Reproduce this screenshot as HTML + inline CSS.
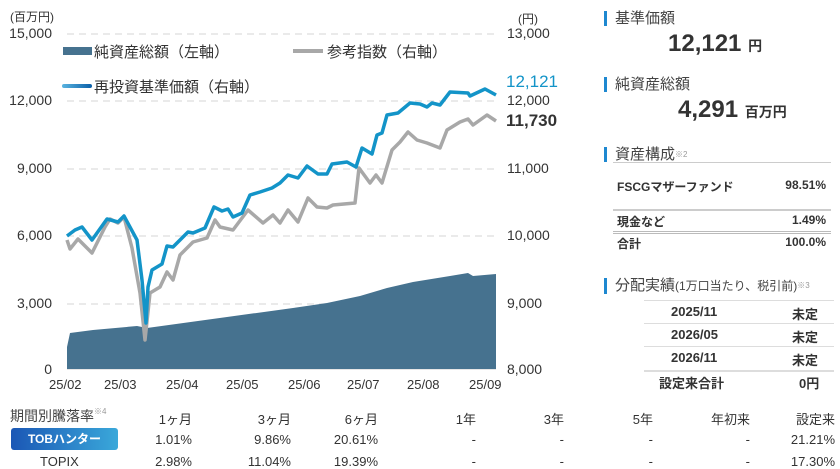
<!DOCTYPE html>
<html><head><meta charset="utf-8"><style>
body{margin:0;width:840px;height:469px;background:#fff;overflow:hidden;font-family:"Liberation Sans","Noto Sans CJK JP",sans-serif;color:#333;position:relative}
.a{position:absolute;white-space:nowrap}
.h{position:absolute;font-size:15px;color:#444;padding-left:8px;border-left:3px solid #1e88d0;line-height:15px}
.r{text-align:right}
.b{font-weight:bold}
</style></head><body>
<svg class="a" style="left:0;top:0" width="580" height="400">
<g stroke="#ddd" stroke-width="1.2" stroke-dasharray="7,5">
<line x1="67" y1="34" x2="496" y2="34"/><line x1="67" y1="101" x2="496" y2="101"/>
<line x1="67" y1="169" x2="496" y2="169"/><line x1="67" y1="236" x2="496" y2="236"/>
<line x1="67" y1="304" x2="496" y2="304"/></g>
<line x1="67" y1="369" x2="496" y2="369" stroke="#ccc"/>
<path fill="#46728f" d="M67,369 L67,347 70,333 93,330 137,326 147,328 227,317 293,308 327,303 360,296 387,288 413,282 450,276 468,273 473,276 496,274 496,369Z"/>
<polyline fill="none" stroke="#a8a8a8" stroke-width="3.5" stroke-linejoin="round" points="67,240 70,249 78,239 84,245 92,253 105,227 110,219 118,223 124,217 132,248 140,293 145,340 150,293 160,287 167,272 173,280 180,255 193,242 207,238 215,220 220,227 233,230 248,210 263,223 273,215 280,223 288,210 298,222 308,198 317,207 327,208 333,205 355,203 359,168 370,183 376,175 382,183 392,150 400,142 408,132 417,140 427,143 440,148 447,130 460,122 468,119 473,125 487,115 496,121"/>
<polyline fill="none" stroke="#1394c8" stroke-width="3.5" stroke-linejoin="round" points="67,236 75,230 82,227 92,240 107,219 118,222 124,216 137,240 142,280 146,323 148,287 152,270 162,264 167,246 173,247 188,232 193,233 205,228 214,207 222,211 228,209 233,217 242,213 250,195 260,192 272,188 280,183 288,175 298,178 307,166 318,174 327,174 332,164 347,162 356,167 362,148 372,154 377,135 382,133 387,115 398,113 410,103 420,104 427,107 432,103 440,105 450,92 468,93 470,96 485,89 496,95"/>
<rect x="63" y="47" width="29" height="8" fill="#46728f"/>
<line x1="293" y1="51" x2="323" y2="51" stroke="#a8a8a8" stroke-width="4"/>
<defs><linearGradient id="g" gradientUnits="userSpaceOnUse" x1="62" y1="0" x2="92" y2="0"><stop offset="0" stop-color="#5ab4e0"/><stop offset="1" stop-color="#0a5fa8"/></linearGradient></defs>
<rect x="62" y="84" width="30" height="4" rx="2" fill="url(#g)"/>
</svg>
<div class="a" style="left:10px;top:8px;font-size:12px">(百万円)</div>
<div class="a" style="left:518px;top:10px;font-size:12px">(円)</div>
<div class="a r" style="left:0;width:52px;top:25px;font-size:14px">15,000</div>
<div class="a r" style="left:0;width:52px;top:92px;font-size:14px">12,000</div>
<div class="a r" style="left:0;width:52px;top:160px;font-size:14px">9,000</div>
<div class="a r" style="left:0;width:52px;top:227px;font-size:14px">6,000</div>
<div class="a r" style="left:0;width:52px;top:295px;font-size:14px">3,000</div>
<div class="a r" style="left:0;width:52px;top:361px;font-size:14px">0</div>
<div class="a" style="left:507px;top:25px;font-size:14px">13,000</div>
<div class="a" style="left:507px;top:92px;font-size:14px">12,000</div>
<div class="a" style="left:507px;top:160px;font-size:14px">11,000</div>
<div class="a" style="left:507px;top:227px;font-size:14px">10,000</div>
<div class="a" style="left:507px;top:295px;font-size:14px">9,000</div>
<div class="a" style="left:507px;top:361px;font-size:14px">8,000</div>
<div class="a" style="left:506px;top:72px;font-size:17px;color:#1394c8">12,121</div>
<div class="a b" style="left:506px;top:111px;font-size:17px">11,730</div>
<div class="a" style="left:94px;top:41px;font-size:15px">純資産総額（左軸）</div>
<div class="a" style="left:327px;top:41px;font-size:15px">参考指数（右軸）</div>
<div class="a" style="left:94px;top:76px;font-size:15px">再投資基準価額（右軸）</div>
<div class="a" style="left:49px;top:377px;font-size:13px">25/02</div>
<div class="a" style="left:104px;top:377px;font-size:13px">25/03</div>
<div class="a" style="left:166px;top:377px;font-size:13px">25/04</div>
<div class="a" style="left:226px;top:377px;font-size:13px">25/05</div>
<div class="a" style="left:288px;top:377px;font-size:13px">25/06</div>
<div class="a" style="left:347px;top:377px;font-size:13px">25/07</div>
<div class="a" style="left:407px;top:377px;font-size:13px">25/08</div>
<div class="a" style="left:469px;top:377px;font-size:13px">25/09</div>

<div class="h" style="left:604px;top:11px">基準価額</div>
<div class="a b" style="left:668px;top:30px;font-size:24px">12,121 <span style="font-size:14px">円</span></div>
<div class="h" style="left:604px;top:77px">純資産総額</div>
<div class="a b" style="left:678px;top:96px;font-size:24px">4,291 <span style="font-size:14px">百万円</span></div>
<div class="h" style="left:604px;top:147px">資産構成<span style="font-size:8px;color:#999;vertical-align:top">※2</span></div>
<div class="a" style="left:613px;top:162px;width:218px;border-top:1px solid #ccc"></div>
<div class="a b" style="left:617px;top:178px;font-size:12px">FSCGマザーファンド</div>
<div class="a b r" style="left:760px;width:66px;top:178px;font-size:12px">98.51%</div>
<div class="a" style="left:613px;top:209px;width:218px;border-top:2px solid #ccc"></div>
<div class="a b" style="left:617px;top:213px;font-size:12px">現金など</div>
<div class="a b r" style="left:760px;width:66px;top:213px;font-size:12px">1.49%</div>
<div class="a" style="left:613px;top:231px;width:218px;border-top:3px double #bbb"></div>
<div class="a b" style="left:617px;top:235px;font-size:12px">合計</div>
<div class="a b r" style="left:760px;width:66px;top:235px;font-size:12px">100.0%</div>
<div class="h" style="left:604px;top:278px">分配実績<span style="font-size:12px">(1万口当たり、税引前)</span><span style="font-size:8px;color:#999;vertical-align:top">※3</span></div>
<div class="a" style="left:644px;top:300px;width:190px;border-top:1px solid #ddd"></div>
<div class="a b" style="left:671px;top:304px;font-size:13px">2025/11</div><div class="a b" style="left:792px;top:304px;font-size:13px">未定</div>
<div class="a" style="left:644px;top:323px;width:190px;border-top:1px solid #ddd"></div>
<div class="a b" style="left:671px;top:327px;font-size:13px">2026/05</div><div class="a b" style="left:792px;top:327px;font-size:13px">未定</div>
<div class="a" style="left:644px;top:346px;width:190px;border-top:1px solid #ddd"></div>
<div class="a b" style="left:671px;top:350px;font-size:13px">2026/11</div><div class="a b" style="left:792px;top:350px;font-size:13px">未定</div>
<div class="a" style="left:644px;top:370px;width:190px;border-top:2px solid #ddd"></div>
<div class="a b" style="left:659px;top:373px;font-size:13px">設定来合計</div><div class="a b" style="left:799px;top:373px;font-size:13px">0円</div>

<div class="a" style="left:10px;top:406px;font-size:14px;color:#444">期間別騰落率<span style="font-size:8px;color:#999;vertical-align:top">※4</span></div>
<div class="a" style="left:11px;top:428px;width:107px;height:22px;border-radius:3px;background:linear-gradient(90deg,#1b57b5,#3aa8da);color:#fff;font-size:12px;font-weight:bold;text-align:center;line-height:22px">TOBハンター</div>
<div class="a" style="left:40px;top:454px;font-size:13px">TOPIX</div>
<div style="position:absolute;left:0;top:0;font-size:13px">
<div class="a r" style="left:132px;width:60px;top:409px">1ヶ月</div>
<div class="a r" style="left:132px;width:60px;top:432px">1.01%</div>
<div class="a r" style="left:132px;width:60px;top:454px">2.98%</div>
<div class="a r" style="left:231px;width:60px;top:409px">3ヶ月</div>
<div class="a r" style="left:231px;width:60px;top:432px">9.86%</div>
<div class="a r" style="left:231px;width:60px;top:454px">11.04%</div>
<div class="a r" style="left:318px;width:60px;top:409px">6ヶ月</div>
<div class="a r" style="left:318px;width:60px;top:432px">20.61%</div>
<div class="a r" style="left:318px;width:60px;top:454px">19.39%</div>
<div class="a r" style="left:416px;width:60px;top:409px">1年</div>
<div class="a r" style="left:416px;width:60px;top:432px">-</div>
<div class="a r" style="left:416px;width:60px;top:454px">-</div>
<div class="a r" style="left:504px;width:60px;top:409px">3年</div>
<div class="a r" style="left:504px;width:60px;top:432px">-</div>
<div class="a r" style="left:504px;width:60px;top:454px">-</div>
<div class="a r" style="left:593px;width:60px;top:409px">5年</div>
<div class="a r" style="left:593px;width:60px;top:432px">-</div>
<div class="a r" style="left:593px;width:60px;top:454px">-</div>
<div class="a r" style="left:690px;width:60px;top:409px">年初来</div>
<div class="a r" style="left:690px;width:60px;top:432px">-</div>
<div class="a r" style="left:690px;width:60px;top:454px">-</div>
<div class="a r" style="left:775px;width:60px;top:409px">設定来</div>
<div class="a r" style="left:775px;width:60px;top:432px">21.21%</div>
<div class="a r" style="left:775px;width:60px;top:454px">17.30%</div>
</div>
</body></html>
